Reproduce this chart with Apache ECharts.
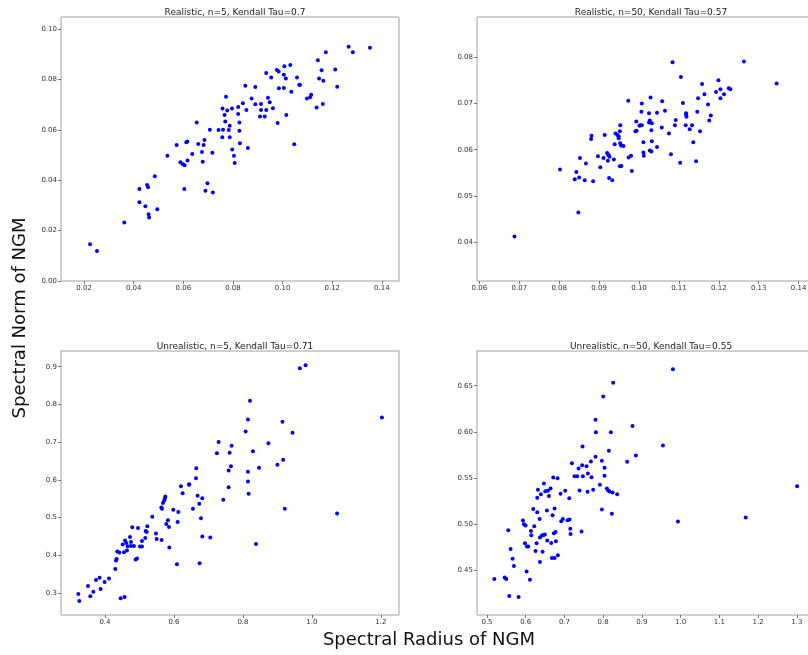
<!DOCTYPE html>
<html>
<head>
<meta charset="utf-8">
<script src="https://cdn.jsdelivr.net/npm/echarts@6/dist/echarts.min.js"></script>
<style>
  html, body { margin: 0; padding: 0; background: #fff; }
  #chart { width: 808px; height: 655px; }
</style>
</head>
<body>
<div id="chart"></div>
<script>
// Realistic, n=5
var realistic5X = [0.0224,0.0252,0.0362,0.0423,0.0423,0.0447,0.0454,0.0458,0.0460,0.0462,0.0485,0.0495,0.0536,0.0573,0.0588,0.0597,0.0605,0.0604,0.0612,0.0616,0.0617,0.0636,0.0654,0.0660,0.0675,0.0678,0.0682,0.0685,0.0689,0.0697,0.0707,0.0717,0.0719,0.0742,0.0758,0.0757,0.0760,0.0766,0.0769,0.0772,0.0777,0.0783,0.0787,0.0787,0.0796,0.0797,0.0804,0.0807,
  0.0821,0.0821,0.0826,0.0826,0.0828,0.0840,0.0850,0.0854,0.0860,0.0875,0.0890,0.0890,0.0909,0.0913,0.0913,0.0928,0.0934,0.0934,0.0941,0.0948,0.0954,0.0961,0.0977,0.0980,0.0984,0.0985,0.1005,0.1005,0.1007,0.1013,0.1015,0.1031,0.1035,0.1047,0.1058,0.1067,0.1070,0.1098,0.1111,0.1115,0.1137,0.1142,0.1147,0.1157,0.1162,0.1164,0.1174,0.1212,0.1220,0.1266,0.1283,0.1352];
var realistic5Y = [0.0146,0.0119,0.0232,0.0366,0.0313,0.0297,0.0381,0.0373,0.0265,0.0252,0.0416,0.0285,0.0498,0.0540,0.0472,0.0465,0.0460,0.0366,0.0551,0.0554,0.0479,0.0505,0.0630,0.0544,0.0513,0.0474,0.0540,0.0560,0.0359,0.0388,0.0601,0.0510,0.0352,0.0600,0.0685,0.0571,0.0601,0.0660,0.0634,0.0732,0.0677,0.0600,0.0617,0.0571,0.0685,0.0523,0.0498,0.0469,
  0.0691,0.0664,0.0630,0.0597,0.0547,0.0706,0.0776,0.0679,0.0528,0.0725,0.0771,0.0702,0.0654,0.0703,0.0679,0.0654,0.0826,0.0679,0.0728,0.0710,0.0809,0.0686,0.0838,0.0628,0.0832,0.0766,0.0820,0.0767,0.0853,0.0805,0.0660,0.0858,0.0752,0.0543,0.0809,0.0780,0.0779,0.0725,0.0730,0.0740,0.0689,0.0877,0.0805,0.0837,0.0703,0.0796,0.0909,0.0840,0.0772,0.0931,0.0909,0.0927];

// Realistic, n=50
var realistic50X = [0.0688,0.0802,0.0843,0.0839,0.0850,0.0848,0.0852,0.0867,0.0864,0.0881,0.0880,0.0885,0.0897,0.0903,0.0911,0.0914,0.0920,0.0923,0.0926,0.0924,0.0922,0.0925,0.0933,0.0937,0.0939,0.0941,0.0946,0.0949,0.0949,0.0952,0.0953,0.0953,0.0955,0.0952,0.0956,0.0961,0.0973,0.0974,0.0980,0.0982,0.0991,0.0994,0.0993,0.1006,0.1007,0.1007,0.1011,
  0.1001,0.1003,0.1011,0.1012,0.1025,0.1025,0.1027,0.1029,0.1031,0.1032,0.1032,0.1027,0.1031,0.1045,0.1045,0.1057,0.1058,0.1065,0.1075,0.1080,0.1084,0.1090,0.1092,0.1103,0.1105,0.1110,0.1117,0.1118,0.1118,0.1119,0.1127,0.1133,0.1136,0.1143,0.1146,0.1148,0.1153,0.1158,0.1164,0.1173,0.1176,0.1180,0.1193,0.1199,0.1204,0.1204,0.1213,0.1225,0.1229,0.1263,0.1345];
var realistic50Y = [0.0412,0.0557,0.0552,0.0536,0.0540,0.0464,0.0582,0.0570,0.0534,0.0630,0.0623,0.0532,0.0586,0.0562,0.0582,0.0632,0.0593,0.0589,0.0585,0.0588,0.0576,0.0539,0.0534,0.0579,0.0612,0.0635,0.0632,0.0629,0.0625,0.0640,0.0653,0.0614,0.0609,0.0564,0.0565,0.0608,0.0706,0.0583,0.0587,0.0554,0.0640,0.0641,0.0661,0.0682,0.0700,0.0653,0.0594,
  0.0652,0.0653,0.0616,0.0587,0.0679,0.0659,0.0663,0.0713,0.0642,0.0657,0.0618,0.0598,0.0596,0.0680,0.0606,0.0648,0.0705,0.0684,0.0635,0.0590,0.0789,0.0653,0.0664,0.0572,0.0757,0.0701,0.0653,0.0679,0.0675,0.0671,0.0644,0.0653,0.0616,0.0575,0.0682,0.0711,0.0640,0.0742,0.0720,0.0698,0.0663,0.0674,0.0725,0.0750,0.0731,0.0711,0.0720,0.0733,0.0731,0.0791,0.0743];

// Unrealistic, n=5
var unrealistic5X = [0.3227,0.3256,0.3507,0.3575,0.3662,0.3739,0.3845,0.3874,0.3990,0.4116,0.4300,0.4319,0.4338,0.4357,0.4415,0.4454,0.4570,0.4512,0.4551,0.4580,0.4618,0.4638,0.4657,0.4725,0.4754,0.4754,0.4792,0.4841,0.4889,0.4928,0.4957,0.5014,0.5072,0.5072,0.5169,0.5179,0.5208,0.5227,0.5372,0.5478,0.5498,0.5643,0.5633,0.5652,0.5681,0.5720,0.5739,0.5749,0.5778,0.5826,0.5855,0.5865,0.5981,0.6087,0.6106,0.6126,0.6203,0.6251,0.6435,0.6444,0.6551,0.6647,0.6638,0.6686,0.6734,0.6744,0.6783,0.6821,0.6821,0.7053,0.7246,0.7295,0.7430,0.7585,0.7585,0.7614,0.7652,0.7671,
  0.8078,0.8146,0.8146,0.8146,0.8165,0.8204,0.8291,0.8379,0.8466,0.8738,0.9000,0.9146,0.9165,0.9214,0.9437,0.9650,0.9816,1.0728,1.2029];
var unrealistic5Y = [0.2973,0.2788,0.3186,0.2912,0.3035,0.3345,0.3407,0.3106,0.3292,0.3381,0.3637,0.3858,0.3903,0.4097,0.4071,0.2858,0.2894,0.4283,0.4080,0.4389,0.4327,0.4124,0.4239,0.4487,0.4354,0.4248,0.4743,0.4248,0.3885,0.3912,0.4726,0.4230,0.4230,0.4381,0.4460,0.4646,0.4619,0.4770,0.5018,0.4575,0.4434,0.4407,0.5265,0.5230,0.5389,0.5451,0.5513,0.5558,0.4832,0.4929,0.4752,0.4204,0.5204,0.3761,0.4885,0.5150,0.5832,0.5646,0.5867,0.5885,0.5230,0.6310,0.6044,0.5575,0.5363,0.3788,0.4982,0.5513,0.4496,0.4469,0.6708,0.7000,0.5469,0.5805,0.6248,0.6717,0.6363,0.6903,
  0.7283,0.7602,0.6212,0.5956,0.5628,0.8097,0.6761,0.4301,0.6319,0.6973,0.6398,0.7540,0.6531,0.5230,0.7248,0.8956,0.9035,0.5106,0.7655];

// Unrealistic, n=50
var unrealistic50X = [0.5189,0.5456,0.5499,0.5550,0.5576,0.5610,0.5662,0.5696,0.5817,0.5929,0.5954,0.5997,0.5980,0.6032,0.6066,0.6023,0.6109,0.6135,0.6144,0.6195,0.6221,0.6255,0.6281,0.6298,0.6298,0.6315,0.6359,0.6367,0.6367,0.6393,0.6419,0.6436,0.6462,0.6470,0.6496,0.6505,0.6548,0.6556,0.6573,0.6599,0.6642,0.6659,0.6677,0.6694,0.6711,0.6728,0.6745,0.6745,0.6780,0.6771,0.6823,0.6831,0.6900,0.6917,0.6960,0.7021,0.7081,0.7132,0.7124,0.7150,0.7158,0.7193,0.7261,0.7330,0.7365,0.7390,0.7442,0.7468,0.7476,0.7459,0.7571,0.7597,0.7606,0.7683,0.7700,0.7743,0.7803,0.7803,0.7812,0.7915,0.7966,0.7966,0.8001,0.8035,0.8035,0.8095,0.8130,0.8147,0.8164,0.8199,0.8224,0.8242,0.8259,0.8362,0.8620,0.8758,0.8844,
  0.9543,0.9802,0.9931,1.1681,1.3009];
var unrealistic50Y = [0.4402,0.4417,0.4402,0.4931,0.4217,0.4728,0.4623,0.4543,0.4207,0.5036,0.4996,0.4982,0.4790,0.4754,0.4754,0.4482,0.4395,0.4924,0.4877,0.5163,0.4975,0.4707,0.4790,0.5127,0.5283,0.5370,0.5054,0.4851,0.4587,0.5322,0.4873,0.4699,0.4880,0.5438,0.4884,0.5355,0.5145,0.4819,0.5359,0.5304,0.5384,0.4793,0.4630,0.5094,0.5504,0.4899,0.4630,0.5167,0.4812,0.4913,0.5496,0.4659,0.5326,0.5029,0.5054,0.5359,0.5040,0.5047,0.5279,0.4946,0.4891,0.5659,0.5518,0.5518,0.5601,0.5362,0.4917,0.5841,0.5518,0.5638,0.5627,0.5348,0.5547,0.5678,0.5507,0.5370,0.5728,0.6130,0.5996,0.5424,0.5685,0.5156,0.6384,0.5609,0.5522,0.5384,0.5362,0.5793,0.5351,0.5996,0.5109,0.5341,0.6533,0.5322,0.5674,0.6062,0.5743,
  0.5851,0.6678,0.5025,0.5069,0.5409];

var titles = ['Realistic, n=5, Kendall Tau=0.7', 'Realistic, n=50, Kendall Tau=0.57',
              'Unrealistic, n=5, Kendall Tau=0.71', 'Unrealistic, n=50, Kendall Tau=0.55'];

// tick values shown on each panel
var xTicks = [[0.02,0.04,0.06,0.08,0.10,0.12,0.14], [0.06,0.07,0.08,0.09,0.10,0.11,0.12,0.13,0.14],
              [0.4,0.6,0.8,1.0,1.2], [0.5,0.6,0.7,0.8,0.9,1.0,1.1,1.2,1.3]];
var yTicks = [[0.00,0.02,0.04,0.06,0.08,0.10], [0.04,0.05,0.06,0.07,0.08],
              [0.3,0.4,0.5,0.6,0.7,0.8,0.9], [0.45,0.50,0.55,0.60,0.65]];
var xDigits = [2, 2, 1, 1];
var yDigits = [2, 2, 1, 2];

var xLim = [[0.0107, 0.1469], [0.0594, 0.1441], [0.2725, 1.2524], [0.4742, 1.347]];
var yLim = [[0, 0.1049], [0.0316, 0.0887], [0.2416, 0.9416], [0.4011, 0.6877]];

var panels = [[realistic5X, realistic5Y], [realistic50X, realistic50Y],
              [unrealistic5X, unrealistic5Y], [unrealistic50X, unrealistic50Y]];

var boxes = [{left: 61, top: 17}, {left: 477, top: 17}, {left: 61, top: 351}, {left: 477, top: 351}];

var chart = echarts.init(document.getElementById('chart'));

var grids = [], xAxes = [], yAxes = [], series = [], titleList = [];
for (var i = 0; i < 4; i++) {
  grids.push({
    left: boxes[i].left, top: boxes[i].top, width: 338, height: 264,
    show: true, borderColor: '#a0a0a0', borderWidth: 1, backgroundColor: '#fff',
    containLabel: false, outerBoundsMode: 'none'
  });
  (function (i) {
    xAxes.push({
      type: 'value', gridIndex: i, min: xLim[i][0], max: xLim[i][1],
      axisLine: {show: false},
      splitLine: {show: false},
      axisTick: {show: true, customValues: xTicks[i], length: 3, inside: false,
                 lineStyle: {color: '#555', width: 0.8}},
      axisLabel: {customValues: xTicks[i], fontSize: 7, color: '#333', margin: 4,
                  fontFamily: 'DejaVu Sans',
                  formatter: function (v) { return v.toFixed(xDigits[i]); }}
    });
    yAxes.push({
      type: 'value', gridIndex: i, min: yLim[i][0], max: yLim[i][1],
      axisLine: {show: false},
      splitLine: {show: false},
      axisTick: {show: true, customValues: yTicks[i], length: 3, inside: false,
                 lineStyle: {color: '#555', width: 0.8}},
      axisLabel: {customValues: yTicks[i], fontSize: 7, color: '#333', margin: 4,
                  fontFamily: 'DejaVu Sans',
                  formatter: function (v) { return v.toFixed(yDigits[i]); }}
    });
  })(i);
  var pts = [];
  for (var j = 0; j < panels[i][0].length; j++) {
    pts.push([panels[i][0][j], panels[i][1][j]]);
  }
  series.push({
    type: 'scatter', xAxisIndex: i, yAxisIndex: i, data: pts,
    symbolSize: 4, itemStyle: {color: '#0000ff', opacity: 1}, silent: true
  });
  titleList.push({
    text: titles[i], left: boxes[i].left + 169, top: boxes[i].top - 14, textAlign: 'center',
    textStyle: {fontSize: 9, fontWeight: 'normal', color: '#222', fontFamily: 'DejaVu Sans'}
  });
}

chart.setOption({
  animation: false,
  title: titleList,
  grid: grids,
  xAxis: xAxes,
  yAxis: yAxes,
  series: series,
  graphic: [
    {type: 'text', x: 429, y: 640,
     style: {text: 'Spectral Radius of NGM', fontSize: 18, fill: '#111', fontFamily: 'DejaVu Sans',
             align: 'center', verticalAlign: 'middle'}},
    {type: 'text', x: 20, y: 318, rotation: Math.PI / 2,
     style: {text: 'Spectral Norm of NGM', fontSize: 18, fill: '#111', fontFamily: 'DejaVu Sans',
             align: 'center', verticalAlign: 'middle'}}
  ]
});
</script>
</body>
</html>
